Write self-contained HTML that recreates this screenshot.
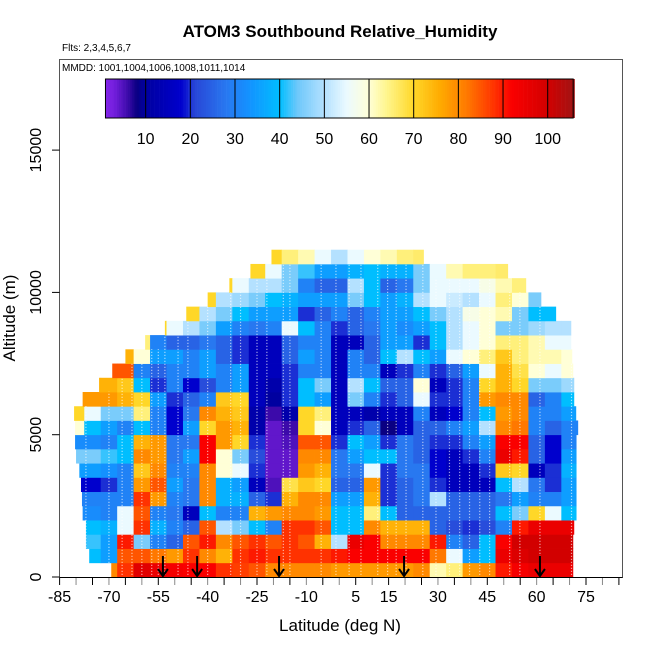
<!DOCTYPE html>
<html><head><meta charset="utf-8"><style>
html,body{margin:0;padding:0;background:#fff}
svg{display:block;font-family:"Liberation Sans",sans-serif}
</style></head><body>
<svg id="chart" width="650" height="650" viewBox="0 0 650 650" xmlns="http://www.w3.org/2000/svg">
<rect width="650" height="650" fill="#fff"/>
<text x="340" y="37" text-anchor="middle" font-size="17" font-weight="bold">ATOM3 Southbound Relative_Humidity</text>
<text x="62" y="51" font-size="10">Flts: 2,3,4,5,6,7</text>
<text x="62" y="71" font-size="10">MMDD: 1001,1004,1006,1008,1011,1014</text>
<g id="heat"></g>
<g id="tracks"></g>
<g id="arrows"></g>
<g id="cbar"></g>
<rect x="59.5" y="59.5" width="563" height="518" fill="none" stroke="#555" stroke-width="1"/>
<g id="xaxis"></g>
<g id="yaxis"></g>
<text x="340" y="631" text-anchor="middle" font-size="17">Latitude (deg N)</text>
<text transform="translate(15,318) rotate(-90)" text-anchor="middle" font-size="17">Altitude (m)</text>
</svg>
<script>
// ---- data ----
const altBinSize = 500;
const rowFirstLat = [-70,-75,-75,-75,-80,-80,-80,-80,-80,-80,-80,-80,-80,-75,-70,-65,-60,-55,-45,-40,-35,-25,-20];
const rowLeft = [-69.3,-76,-77,-77,-78,-78.2,-78.5,-79,-80,-80.3,-80.3,-80.6,-78,-73,-69,-65,-59,-53,-46.5,-40,-33.4,-27,-20.6];
const rowRight = [71,71,71,71.3,72,72,72,72,72,72,72.5,71.9,71.3,71.3,71,70.7,70.4,70.4,65.8,61.3,56.7,51.2,25.6];
const row0 = [80,88,97,95,93,92,92,88,87,85,80,80,80,80,78,78,78,78,78,80,62,65,78,80,90,93,95,95,95];
const row1 = [40,35,85,85,82,78,88,80,75,88,90,88,88,88,88,90,92,92,92,92,92,82,55,35,40,95,98,100,100,100];
const row2 = [42,35,90,45,30,25,85,90,80,85,88,85,88,85,75,50,95,92,80,80,80,90,30,25,40,92,100,100,100,100];
const row3 = [40,38,55,88,38,30,25,85,50,45,40,30,88,88,85,40,40,80,75,75,75,25,22,20,22,30,90,95,95,95];
const row4 = [32,32,30,55,85,30,28,15,40,30,30,75,78,80,80,78,40,40,65,40,25,25,25,25,25,25,40,45,70,55,40];
const row5 = [30,30,30,30,88,78,30,28,80,38,38,25,20,75,80,80,35,35,75,20,25,28,50,25,25,25,28,35,30,30,35];
const row6 = [18,18,20,30,78,85,35,28,80,38,35,15,5,68,72,70,25,25,78,20,25,28,20,15,15,15,40,50,28,20,35];
const row7 = [35,35,33,30,72,80,30,30,80,60,55,20,4,4,78,75,28,28,55,20,28,28,18,15,15,20,72,70,15,20,38];
const row8 = [45,45,42,40,80,78,28,35,92,60,45,22,4,4,80,80,28,35,40,40,28,25,18,15,20,30,95,90,25,18,35];
const row9 = [32,32,30,40,75,78,28,28,92,78,70,20,4,5,85,85,20,40,35,20,28,25,20,20,30,35,92,92,25,18,30];
const row10 = [60,40,35,30,40,30,18,35,70,78,75,12,4,6,70,60,15,20,25,8,15,25,25,30,35,50,80,82,30,25,30];
const row11 = [70,55,45,45,65,30,18,28,80,75,72,12,6,12,70,65,15,15,12,15,15,30,15,18,30,40,78,80,30,30,35];
const row12 = [78,78,78,75,70,35,20,25,30,72,70,15,10,20,40,35,15,45,30,20,25,55,20,20,30,78,80,80,25,30,40];
const row13 = [75,75,72,40,20,30,18,22,30,35,15,12,20,40,45,15,50,40,25,25,60,15,20,30,70,75,70,45,45,48];
const row14 = [85,85,30,25,30,30,35,30,35,15,15,20,30,30,15,30,30,15,20,30,20,25,35,55,75,68,60,55,60];
const row15 = [75,60,35,35,30,35,25,20,15,15,25,35,30,15,30,25,40,50,40,35,55,60,65,72,65,62,62,60];
const row16 = [65,30,25,25,28,25,20,15,15,25,30,30,15,15,25,35,35,20,40,50,55,60,65,65,62,55,55];
const row17 = [70,55,50,45,35,30,28,30,55,40,30,20,25,28,35,32,35,40,50,55,60,45,45,48,50,50];
const row18 = [70,50,45,40,35,35,35,20,25,30,25,30,35,35,40,45,50,58,60,62,45,40,40];
const row19 = [70,50,48,45,40,38,35,35,35,45,40,35,38,50,55,52,50,55,65,60,45];
const row20 = [70,55,50,50,45,30,25,25,50,40,25,28,45,55,55,55,58,62,65];
const row21 = [70,55,45,42,35,35,38,40,38,38,45,55,62,65,65,66];
const row22 = [70,65,62,55,50,55,60,62,65,66];
const rowValues = [row0,row1,row2,row3,row4,row5,row6,row7,row8,row9,row10,row11,row12,row13,row14,row15,row16,row17,row18,row19,row20,row21,row22];
const trackLats = [-77,-70,-66,-63,-60,-57,-55,-53,-49,-46,-40,-33,-30,-25,-22,-17,-15,-5.5,-1,3,6.6,11.7,14.7,17.3,20.3,25.4,29.4,33.5,36.6,39.6,42.7,45.7,51.8,54.9,61,70.6];
const arrowLats = [-53.6,-43.2,-18.3,19.7,61];
const xTickLabels = [-85,-70,-55,-40,-25,-10,5,15,30,45,60,75];
const yTickLabels = [0,5000,10000,15000];
const cbarTicks = [10,20,30,40,50,60,70,80,90,100];

// ---- scales ----
const NS='http://www.w3.org/2000/svg';
const xS = lat => 59.6 + (lat + 85) * 3.29;
const yS = alt => 577 - alt * 0.02846;
const cS = v => 101 + v * 4.467;
const stops = [[0,[140,40,240]],[3,[115,30,220]],[6,[60,10,170]],[8,[10,0,130]],[10,[0,0,160]],[18,[0,0,205]],[21,[40,70,215]],[28,[40,120,240]],[33,[20,145,255]],[40,[0,190,255]],[44,[110,200,250]],[50,[180,225,255]],[55,[235,250,255]],[60,[255,255,215]],[64,[255,245,140]],[70,[255,215,40]],[76,[255,170,0]],[82,[255,120,0]],[88,[255,50,0]],[92,[250,0,0]],[100,[210,0,0]],[106,[160,20,20]]];
function color(v){
  if(v<=stops[0][0]) return 'rgb('+stops[0][1]+')';
  for(let i=1;i<stops.length;i++){
    if(v<=stops[i][0]){
      const a=stops[i-1],b=stops[i],t=(v-a[0])/(b[0]-a[0]);
      return 'rgb('+a[1].map((c,j)=>Math.round(c+(b[1][j]-c)*t)).join(',')+')';
    }
  }
  return 'rgb('+stops[stops.length-1][1]+')';
}
function mk(tag,attrs,parent){const e=document.createElementNS(NS,tag);for(const k in attrs)e.setAttribute(k,attrs[k]);parent.appendChild(e);return e;}

// ---- heatmap ----
const heat=document.getElementById('heat');
rowValues.forEach((vals,k)=>{
  const a0=k*altBinSize, a1=(k+1)*altBinSize;
  vals.forEach((v,i)=>{
    const c=rowFirstLat[k]+i*5;
    const l=Math.max(c-2.5,rowLeft[k]), r=Math.min(c+2.5,rowRight[k]);
    if(r<=l) return;
    const el=mk('rect',{x:xS(l),y:yS(a1),width:xS(r)-xS(l)+0.4,height:yS(a0)-yS(a1)+0.4,fill:color(v)},heat);
    
    
  });
});

// ---- tracks ----
const tr=document.getElementById('tracks');
trackLats.forEach(lat=>{
  let top=0;
  for(let k=0;k<rowValues.length;k++){ if(lat>=rowLeft[k]&&lat<=rowRight[k]) top=(k+1)*altBinSize; }
  const el=mk('line',{x1:xS(lat),x2:xS(lat),y1:yS(0)-2,y2:yS(top)+14,stroke:'#fff','stroke-width':1.2,'stroke-dasharray':'1.2 1.8',opacity:0.6},tr);
  
  
});

// ---- arrows ----
const ar=document.getElementById('arrows');
arrowLats.forEach(lat=>{
  const x=xS(lat);
  const g=mk('g',{},ar);
  
  
  mk('line',{x1:x,x2:x,y1:556,y2:576,stroke:'#000','stroke-width':2},g);
  mk('polyline',{points:(x-5)+',569 '+x+',576 '+(x+5)+',569',fill:'none',stroke:'#000','stroke-width':2},g);
});

// ---- color bar ----
const cb=document.getElementById('cbar');
for(let v=1;v<105.7;v+=0.5){
  const el=mk('rect',{x:cS(v),y:79,width:4.467*0.5+0.3,height:39,fill:color(v+0.25)},cb);
  
  
}
mk('rect',{x:cS(1),y:79,width:cS(105.7)-cS(1),height:39,fill:'none',stroke:'#000','stroke-width':1},cb);
cbarTicks.forEach(t=>{
  mk('line',{x1:cS(t),x2:cS(t),y1:79,y2:118,stroke:'#000','stroke-width':1},cb);
  const tx=mk('text',{x:cS(t),y:144,'text-anchor':'middle','font-size':16},cb);
  tx.textContent=t;
  
  
});

// ---- axes ----
const xa=document.getElementById('xaxis');
mk('line',{x1:59.6,x2:622.5,y1:577.5,y2:577.5,stroke:'#000','stroke-width':1},xa);
for(let lat=-85;lat<=85;lat+=5){
  mk('line',{x1:xS(lat),x2:xS(lat),y1:578,y2:585,stroke:(lat/5)%2===0?'#888':'#000','stroke-width':1},xa);
}
xTickLabels.forEach(t=>{
  const tx=mk('text',{x:xS(t),y:602,'text-anchor':'middle','font-size':16},xa);
  tx.textContent=t;
  
  
});
const ya=document.getElementById('yaxis');
yTickLabels.forEach(t=>{
  mk('line',{x1:52,x2:59.6,y1:yS(t),y2:yS(t),stroke:'#000','stroke-width':1},ya);
  const tx=mk('text',{transform:'translate(41,'+yS(t)+') rotate(-90)','text-anchor':'middle','font-size':16},ya);
  tx.textContent=t;
  
  
});
</script>
</body></html>
